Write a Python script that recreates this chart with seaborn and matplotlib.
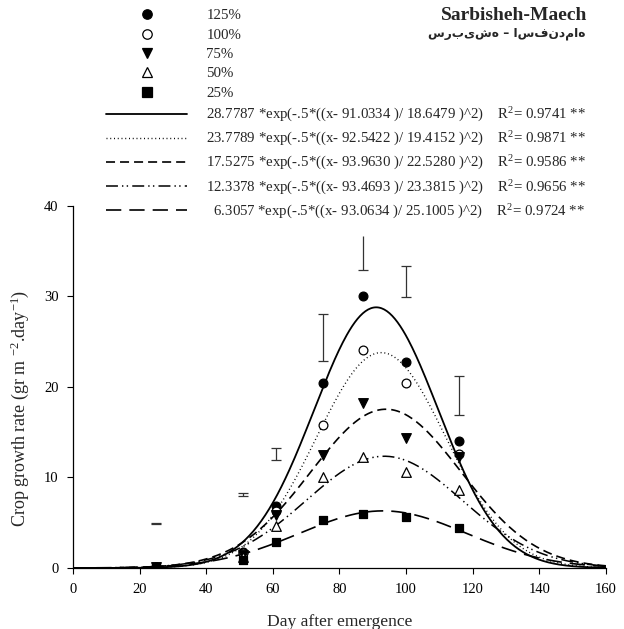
import numpy as np
import matplotlib
matplotlib.use("Agg")
import matplotlib.pyplot as plt
from matplotlib.lines import Line2D
import seaborn as sns

# sampling days and crop growth rate per irrigation level
days = [25, 51, 61, 75, 87, 100, 116]
levels = ["125%", "100%", "75%", "50%", "25%"]
cgr_125 = [0.1, 1.8, 6.8, 20.4, 30.0, 22.7, 14.0]
cgr_100 = [0.1, 1.7, 6.3, 15.8, 24.1, 20.4, 12.6]
cgr_75 = [0.1, 1.4, 5.9, 12.5, 18.2, 14.4, 12.2]
cgr_50 = [0.1, 1.2, 4.6, 10.1, 12.2, 10.6, 8.6]
cgr_25 = [0.1, 0.9, 2.9, 5.3, 6.0, 5.6, 4.4]

# gaussian fit parameters as printed in the legend
fit_a = [28.7787, 23.7789, 17.5275, 12.3378, 6.3057]
fit_x0 = [91.0334, 92.5422, 93.9630, 93.4693, 93.0634]
fit_b = [18.6479, 19.4152, 22.5280, 23.3815, 25.1005]
fit_r2 = ["0.9741", "0.9871", "0.9586", "0.9656", "0.9724"]

# LSD bars
bar_days = [25, 51, 61, 75, 87, 100, 116]
bar_low = [4.85, 7.9, 11.9, 22.9, 32.9, 29.9, 16.9]
bar_high = [5.0, 8.3, 13.2, 28.0, 36.7, 33.3, 21.2]
top_cap = [True, True, True, True, False, True, True]

series = [cgr_125, cgr_100, cgr_75, cgr_50, cgr_25]
markers = ["o", "o", "v", "^", "s"]
faces = ["black", "white", "black", "white", "black"]
msizes = [40, 40, 48, 48, 38]
styles = ["-", (0, (0.7, 2.0)), (0, (6.5, 3.6)), (0, (8.6, 2.9, 1.0, 2.4, 1.0, 3.0)), (0, (11.0, 5.8))]
widths = [1.3, 1.0, 1.2, 1.1, 1.2]

sns.set_theme(style="ticks")
plt.rcParams["font.family"] = ["Liberation Serif", "DejaVu Sans"]
plt.rcParams["mathtext.fontset"] = "custom"
plt.rcParams["mathtext.rm"] = "Liberation Serif"
plt.rcParams["mathtext.it"] = "Liberation Serif:italic"
plt.rcParams["lines.scale_dashes"] = False

fig = plt.figure(figsize=(6.24, 6.29), dpi=100)
ax = fig.add_axes([0.117, 0.097, 0.854, 0.576])

xs = np.linspace(0, 160, 400)
for a, x0, b, ls, lw in zip(fit_a, fit_x0, fit_b, styles, widths):
    ys = a * np.exp(-0.5 * ((xs - x0) / b) ** 2)
    sns.lineplot(x=xs, y=ys, ax=ax, color="black", linestyle=ls, linewidth=lw, zorder=2)

for vals, m, fc, s in zip(series, markers, faces, msizes):
    sns.scatterplot(x=days, y=vals, ax=ax, marker=m, s=s, color=fc,
                    edgecolor="black", linewidth=0.9, zorder=4, legend=False)

ax.vlines(bar_days, bar_low, bar_high, color="#333333", linewidth=0.9, zorder=3)
ax.plot(bar_days, bar_low, marker="_", linestyle="none", markersize=7, mew=0.9, color="#333333", zorder=3)
ax.plot([d for d, t in zip(bar_days, top_cap) if t], [h for h, t in zip(bar_high, top_cap) if t],
        marker="_", linestyle="none", markersize=7, mew=0.9, color="#333333", zorder=3)

ax.set_xlim(0, 160)
ax.set_ylim(0, 40)
ax.set_xticks(range(0, 161, 20))
ax.set_yticks(range(0, 41, 10))
ax.tick_params(direction="out", length=4, width=0.8, labelsize=10.5, pad=6.5, colors="black")
for sp in ax.spines.values():
    sp.set_linewidth(0.9)
    sp.set_color("black")
sns.despine(ax=ax)

ax.set_xlabel("Day after emergence", fontsize=12.6)
ax.set_ylabel("Crop growth rate (gr m $^{-2}$.day$^{-1}$)", fontsize=13)
ax.xaxis.set_label_coords(0.5, -0.128)
ax.yaxis.set_label_coords(-0.078, 0.44)

handles = []
labels = []
for lev, m, fc in zip(levels, markers, faces):
    handles.append(Line2D([], [], marker=m, linestyle="none", markersize=6.8,
                          markerfacecolor=fc, markeredgecolor="black", markeredgewidth=0.9))
    labels.append(lev)
for a, x0, b, r2, ls, lw in zip(fit_a, fit_x0, fit_b, fit_r2, styles, widths):
    handles.append(Line2D([], [], color="black", linestyle=ls, linewidth=lw))
    pad = "  " if a < 10 else ""
    labels.append(f"{pad}{a:.4f} *exp(-.5*((x- {x0:.4f} )/ {b:.4f} )^2)    "
                  + r"$\mathrm{R}^{2}$" + f"= {r2} **")

leg = ax.legend(handles, labels, loc="upper left", bbox_to_anchor=(0.1694, 0.9857),
                bbox_transform=fig.transFigure, fontsize=10.7, handlelength=5.5,
                handletextpad=1.28, labelspacing=0.4, borderpad=0.0, borderaxespad=0.0,
                frameon=True, fancybox=False, framealpha=1)
leg.get_frame().set_edgecolor("none")
leg.get_frame().set_facecolor("white")

fig.text(0.941, 0.975, "Sarbisheh-Maech", ha="right", va="center",
         fontsize=14, fontweight="bold")
fig.text(0.938, 0.9475, "سربیشه – اسفندماه", ha="right", va="center",
         fontsize=8.7, fontweight="bold", family=["DejaVu Sans"])

fig.savefig("out.png", dpi=100)
